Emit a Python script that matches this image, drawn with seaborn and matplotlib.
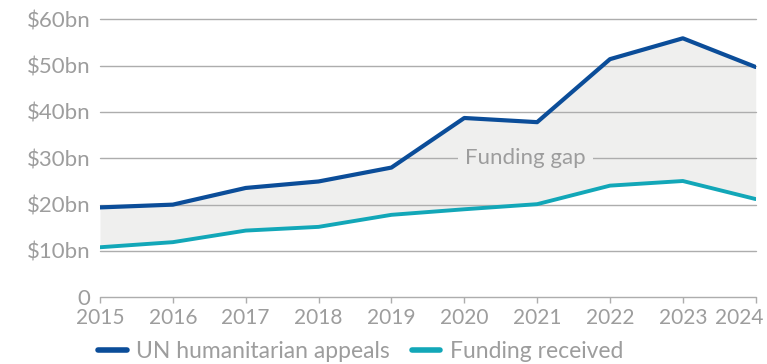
import matplotlib
matplotlib.use("Agg")
import matplotlib.pyplot as plt
import matplotlib.transforms as mtransforms
from matplotlib.lines import Line2D
import seaborn as sns
import pandas as pd

# UN humanitarian appeals vs funding received, US$ billions
years = [2015, 2016, 2017, 2018, 2019, 2020, 2021, 2022, 2023, 2024]
appeals = [19.4, 20.0, 23.6, 25.0, 28.0, 38.7, 37.8, 51.4, 55.9, 49.7]
received = [10.8, 11.9, 14.4, 15.2, 17.8, 19.0, 20.1, 24.1, 25.1, 21.2]
y_ticks = [0, 10, 20, 30, 40, 50, 60]
y_labels = ["0", "$10bn", "$20bn", "$30bn", "$40bn", "$50bn", "$60bn"]
series_names = ["UN humanitarian appeals", "Funding received"]
gap_label = "Funding gap"

BLUE = "#0b4d99"
TEAL = "#12a7b8"
GAP = "#efefee"
GRID = "#adadad"
TEXT = "#9d9d9d"

sns.set_theme(style="white")
plt.rcParams["font.family"] = ["Lato", "DejaVu Sans"]

df = pd.DataFrame({"year": years, "appeals": appeals, "received": received})

fig = plt.figure(figsize=(7.67, 3.64), dpi=100)
ax = fig.add_axes([100 / 767, (364 - 297.3) / 364, 655.7 / 767, 278 / 364])

ax.fill_between(df["year"], df["received"], df["appeals"], color=GAP, lw=0, zorder=1)
for yv in y_ticks:
    ax.axhline(yv, color=GRID, lw=1.0, zorder=2, clip_on=False)

sns.lineplot(data=df, x="year", y="appeals", color=BLUE, lw=3.0, ax=ax, zorder=4)
sns.lineplot(data=df, x="year", y="received", color=TEAL, lw=2.8, ax=ax, zorder=4)

ax.text(2020.84, 30, gap_label, ha="center", va="center", fontsize=16, color=TEXT,
        zorder=3, bbox=dict(facecolor=GAP, edgecolor="none", pad=5.5))

ax.set_xlim(2015, 2024)
ax.set_ylim(0, 60)
ax.set_xticks(years)
ax.set_xticklabels([str(y) for y in years])
ax.set_yticks(y_ticks)
ax.set_yticklabels(y_labels)
ax.set_xlabel("")
ax.set_ylabel("")
for s in ax.spines.values():
    s.set_visible(False)
ax.tick_params(axis="y", length=0, pad=7, labelsize=16, labelcolor=TEXT)
ax.tick_params(axis="x", length=4, width=1, color=GRID, direction="out", bottom=True,
               pad=4, labelsize=15, labelcolor=TEXT)

# keep the last year label inside the figure edge
last = ax.get_xticklabels()[-1]
last.set_transform(last.get_transform() +
                   mtransforms.ScaledTranslation(-16 / 100, 0, fig.dpi_scale_trans))

handles = [Line2D([], [], color=BLUE, lw=4, solid_capstyle="round"),
           Line2D([], [], color=TEAL, lw=4, solid_capstyle="round")]
fig.legend(handles, series_names, loc="center left", bbox_to_anchor=(98 / 767, 12 / 364),
           ncol=2, frameon=False, borderaxespad=0, borderpad=0,
           prop={"size": 16.5}, handlelength=1.25, handletextpad=0.42,
           columnspacing=0.95, labelcolor=TEXT)

fig.savefig("out.png", dpi=100, facecolor="white")
